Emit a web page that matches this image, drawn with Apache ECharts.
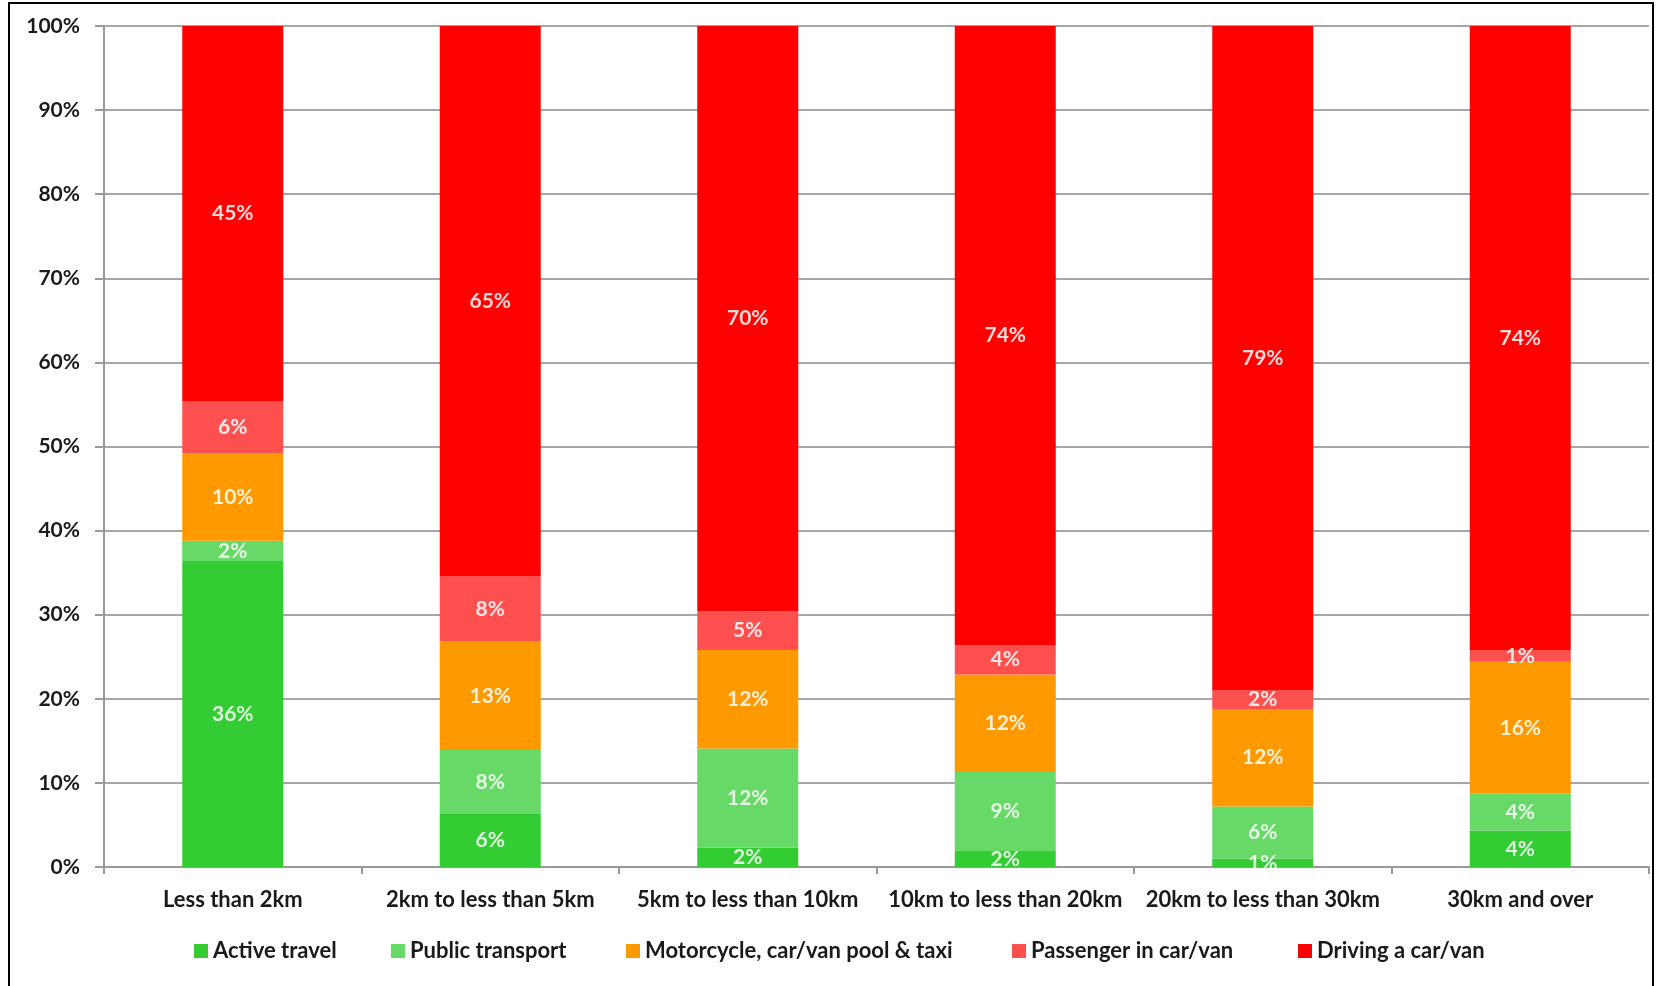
<!DOCTYPE html>
<html>
<head>
<meta charset="utf-8">
<script src="https://cdn.jsdelivr.net/npm/echarts@6/dist/echarts.min.js"></script>
<style>
html,body{margin:0;padding:0;background:#fff;}
#chart{width:1656px;height:986px;}
</style>
</head>
<body>
<div id="chart"></div>
<script>
const categories = ['Less than 2km','2km to less than 5km','5km to less than 10km','10km to less than 20km','20km to less than 30km','30km and over'];
const seriesNames = ['Active travel','Public transport','Motorcycle, car/van pool & taxi','Passenger in car/van','Driving a car/van'];
const activeTravel    = [36.4, 6.3, 2.3, 1.9, 1.0, 4.3];
const publicTransport = [2.4, 7.6, 11.8, 9.4, 6.2, 4.4];
const motorcycleTaxi  = [10.4, 12.9, 11.7, 11.6, 11.6, 15.7];
const passenger       = [6.2, 7.8, 4.6, 3.5, 2.2, 1.4];
const driving         = [44.6, 65.4, 69.6, 73.6, 79.0, 74.2];
const yTicks = [0,10,20,30,40,50,60,70,80,90,100];

const colors = ['#33cc33','#66d966','#ff9900','#ff5050','#ff0000'];
const allData = [activeTravel, publicTransport, motorcycleTaxi, passenger, driving];
const FONT = 'Lato';

const chart = echarts.init(document.getElementById('chart'), null, {renderer:'canvas'});
const legendLefts = [194, 391, 626, 1012, 1298];

const option = {
  backgroundColor: '#fff',
  animation: false,
  textStyle: {fontFamily: FONT},
  grid: {left: 104, right: 7, top: 26, bottom: 119, containLabel: false},
  legend: seriesNames.map((n, i) => ({
    data: [n],
    left: legendLefts[i],
    top: 940,
    padding: 0,
    itemWidth: 14,
    itemHeight: 14,
    itemGap: 0,
    icon: 'rect',
    textStyle: {fontFamily: FONT, fontWeight: 'bold', fontSize: 22, color: '#1a1a1a', padding: [0,0,0,0]}
  })),
  xAxis: {
    type: 'category',
    data: categories,
    axisLine: {lineStyle: {color: '#999', width: 2}},
    axisTick: {show: true, alignWithLabel: false, length: 7, lineStyle: {color: '#999', width: 2}},
    axisLabel: {interval: 0, margin: 22, fontFamily: FONT, fontWeight: 'bold', fontSize: 22, color: '#1a1a1a'}
  },
  yAxis: {
    type: 'value',
    min: 0, max: 100, interval: 10,
    axisLine: {show: true, lineStyle: {color: '#999', width: 2}},
    axisTick: {show: true, length: 9, lineStyle: {color: '#999', width: 2}},
    splitLine: {show: true, lineStyle: {color: '#a6a6a6', width: 2}},
    axisLabel: {margin: 24, fontFamily: FONT, fontWeight: 'bold', fontSize: 21, color: '#1a1a1a',
      formatter: v => yTicks.includes(v) ? v + '%' : ''}
  },
  series: seriesNames.map((n, i) => ({
    name: n,
    type: 'bar',
    stack: 'total',
    barWidth: 101,
    itemStyle: {color: colors[i]},
    label: {
      show: true, position: 'inside',
      formatter: p => Math.round(p.value) + '%',
      fontFamily: FONT, fontWeight: 'bold', fontSize: 21,
      color: 'rgba(255,255,255,0.85)'
    },
    data: allData[i]
  })),
  graphic: [{
    type: 'rect', silent: true, z: 100,
    shape: {x: 9, y: 3, width: 1644, height: 990},
    style: {fill: 'none', stroke: '#000', lineWidth: 2}
  }]
};
chart.setOption(option);
</script>
</body>
</html>
